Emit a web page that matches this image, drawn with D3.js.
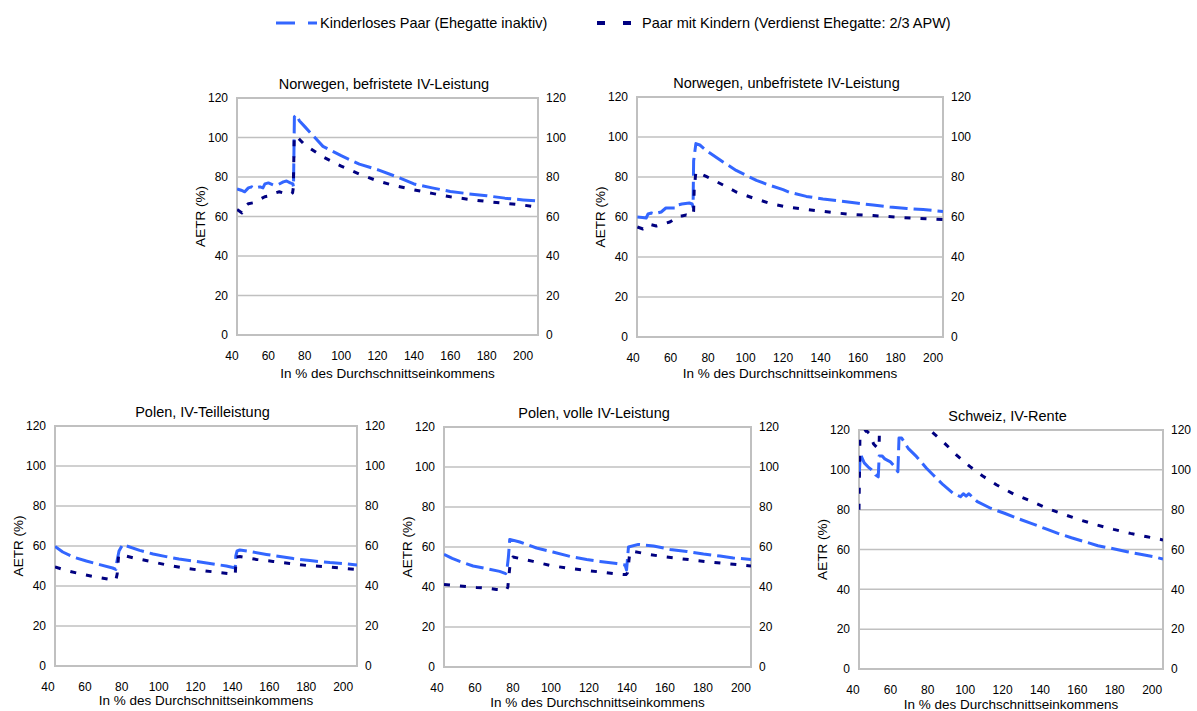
<!DOCTYPE html>
<html><head><meta charset="utf-8">
<script src="https://cdn.jsdelivr.net/npm/d3@7"></script>
<style>body{margin:0;background:#fff;font-family:"Liberation Sans",Arial,sans-serif;}</style>
</head><body>
<svg id="c" width="1197" height="711"></svg>
<script>
// ---------- data ----------
const seriesNames = ["Kinderloses Paar (Ehegatte inaktiv)", "Paar mit Kindern (Verdienst Ehegatte: 2/3 APW)"];
const panelTitles = ["Norwegen, befristete IV-Leistung","Norwegen, unbefristete IV-Leistung","Polen, IV-Teilleistung","Polen, volle IV-Leistung","Schweiz, IV-Rente"];
const xTicks = [40,60,80,100,120,140,160,180,200];
const yTicks = [0,20,40,60,80,100,120];
const xTitle = "In % des Durchschnittseinkommens";
const yTitle = "AETR (%)";

const norBefChildless = [[42.8,74],[45,73.3],[47,72.5],[49,74.5],[50.8,75],[52,74.3],[55.4,75],[57,74.5],[58.1,76.5],[60,77],[62.7,76],[65,76],[68.2,77.5],[70,78],[72,77],[73.5,76.5],[73.8,75],[74.3,110.5],[75.5,111.5],[77,108.5],[80,105.5],[85,100.5],[90,95.5],[100,90.8],[110,86.5],[120,83.7],[130,80.3],[140,76.5],[150,74.5],[160,72.7],[170,71.5],[180,70.5],[190,69.3],[200,68.4],[208.2,67.8]];
const norBefKids = [[42.8,63.5],[45.5,61.8],[47,65],[49,66.5],[52,67],[55,68.5],[58,70],[61,70.5],[64,72],[66,72.5],[68,72],[72,71],[73.3,72],[73.7,74.5],[74.2,100.5],[75,101],[80,96.3],[90,90.2],[100,85.5],[110,81.5],[120,78],[130,75.5],[140,73.5],[150,71.7],[160,70],[170,68.7],[180,67.6],[190,66.7],[200,65.8],[208.2,64.7]];

const norUnbChildless = [[42.3,60],[45,59.8],[47,59.5],[48,61.5],[49.8,62],[51.6,61.5],[53,62],[55,62.5],[57.5,64.5],[60,64.5],[63,64.5],[63.8,66],[66,66.5],[70,67],[71.5,66.5],[72,65],[72.3,88],[73.5,96.7],[75.6,96],[79,93.3],[88,87.5],[95,83.3],[100.4,80.8],[105.8,78.3],[113,75.8],[120,73.7],[123.6,72.3],[132.4,70.3],[141.3,69],[150,68],[159,67],[168,66],[177,65],[186,64.3],[194.7,63.7],[205.3,62.8]];
const norUnbKids = [[42.3,55],[45.3,54],[47,55.5],[48.9,56.3],[52.4,55.5],[56,56.5],[59.6,57.5],[62.2,59],[63.5,60.3],[66,60.5],[68.4,61],[70.5,60.5],[72,61],[72.3,63],[72.6,74],[73.5,82.5],[75,82],[79,80.3],[88,76],[95,72.5],[104,69.5],[113,66.8],[122,65],[130.7,64],[139.6,63],[148.4,62],[157,61.3],[168,60.7],[175,60.3],[184,59.7],[193,59.3],[205.3,58.7]];

const polTeilChildless = [[43.8,59.8],[48,57],[53.6,54.5],[60.8,52.5],[68,50.7],[75,49],[76.8,48.3],[77.3,52],[78.5,57.5],[80.5,60.7],[89.7,57.8],[97,56],[104,54.7],[111,53.5],[118.7,52.5],[126,51.5],[136.7,50],[141.5,49],[141.8,55],[142.5,57.5],[144,58],[149.4,57.3],[158.4,55.8],[165.7,54.7],[173,53.7],[182,52.7],[192.8,51.7],[200,51.2],[207.5,50.5]];
const polTeilKids = [[43.8,49.5],[50,47.7],[57,46.2],[64.4,44.8],[73.5,43.3],[76.8,43],[77.5,46],[78.3,55.5],[80,55.5],[88,53.7],[97,52],[106,50.2],[115,48.8],[124,47.7],[133,46.7],[140,46],[141.5,45.7],[142,54.5],[144,54.7],[153,53.3],[162,52.3],[171,51.3],[180,50.3],[189,49.7],[198,49],[207.5,48.3]];

const polVollChildless = [[43.7,56.3],[48,54.3],[52,52.8],[59,50.5],[66,49.2],[73,47.8],[76.2,46.7],[77,50],[77.6,55],[78.3,63.8],[83.6,62.5],[92.4,59.5],[101,57.5],[110,55.3],[118.8,53.8],[125.8,52.8],[134.6,51.7],[139,51],[139.8,48.5],[140.8,60],[146,61.3],[154,60.5],[162.7,58.8],[171.5,57.8],[180.3,56.5],[189,55.5],[196,54.5],[205.3,53.8]];
const polVollKids = [[43.7,41.3],[52,40.5],[60.7,39.8],[66,39.5],[71.3,38.8],[76.6,38.5],[77.3,40],[77.8,45],[78.5,51.5],[80,55],[90.6,52.8],[99.4,50.8],[108,49.5],[117,48.5],[125.8,47.5],[134.6,46.5],[139.5,46.2],[140.2,47],[140.7,50],[141.5,57.5],[143.4,57.8],[150.4,56.5],[159,55.2],[168,54.2],[176.8,53.2],[185.6,52.3],[194.4,51.5],[205.3,50.5]];

const schChildless = [[43.3,97],[43.9,108],[46,103.5],[48,101.5],[50,100],[52,97.5],[53.5,96.5],[54,107],[55.5,107],[57,105.5],[60,104],[62,102],[64,99],[64.6,116],[66,116],[69.5,110.8],[74,106.6],[79.3,100.8],[82.9,97.4],[88.3,92.4],[93.6,88.2],[97.5,86.5],[99,88],[100.5,86.8],[102,88],[106.5,84],[113.6,80.7],[121,78.2],[128,75.6],[135.3,73.1],[142.5,70.6],[149.6,68.1],[156.8,65.9],[164,63.9],[171,61.9],[178,60.6],[186.6,58.9],[193.7,57.6],[200.8,56.4],[205.8,55.2]];
const schKids = [[43.2,80],[43.7,117],[45,118.5],[47,119.8],[49,118],[51,113],[53.6,110.5],[54,114],[54.3,126],[60,124],[64,121.5],[64.6,138],[70,133],[75,127],[81,120],[88.3,114],[95.4,107.4],[102.6,101.6],[109.8,96.6],[116.9,92.4],[125.8,87.9],[134.8,84.4],[143.7,80.7],[152.6,77.7],[161.6,74.8],[170.5,72.3],[179.4,70.1],[188.4,68.1],[197.3,66.4],[205.8,64.8]];

// ---------- layout ----------
const colors = ["#3366FF", "#000080"];
const dashes = ["18,6", "6,10"];
const panels = [
  {title:panelTitles[0], left:237, right:538, top:98, bottom:335, xd:[42.75,208.2], s:[norBefChildless,norBefKids], xtY:43},
  {title:panelTitles[1], left:637, right:943, top:97, bottom:337, xd:[42.1,205.3], s:[norUnbChildless,norUnbKids], xtY:41},
  {title:panelTitles[2], left:55, right:357, top:426, bottom:666, xd:[43.8,207.5], s:[polTeilChildless,polTeilKids], xtY:39},
  {title:panelTitles[3], left:444, right:751, top:427, bottom:667, xd:[43.7,205.3], s:[polVollChildless,polVollKids], xtY:39.5},
  {title:panelTitles[4], left:859, right:1163, top:430, bottom:669, xd:[43.2,205.8], s:[schChildless,schKids], xtY:39.5}
];

const svg = d3.select("#c");
const font = '"Liberation Sans", Arial, sans-serif';

panels.forEach((p,i)=>{
  const w = p.right-p.left, h = p.bottom-p.top;
  const x = d3.scaleLinear().domain(p.xd).range([0,w]);
  const y = d3.scaleLinear().domain([0,120]).range([h,0]);
  const g = svg.append("g").attr("transform",`translate(${p.left},${p.top})`);
  g.selectAll("line.grid").data(yTicks.filter(t=>t>0 && t<120)).enter().append("line")
    .attr("x1",0).attr("x2",w).attr("y1",d=>y(d)).attr("y2",d=>y(d))
    .attr("stroke","#c0c0c0").attr("stroke-width",1.5);
  g.append("rect").attr("x",0).attr("y",0).attr("width",w).attr("height",h)
    .attr("fill","none").attr("stroke","#c0c0c0").attr("stroke-width",2);
  g.selectAll("text.yl").data(yTicks).enter().append("text")
    .attr("x",-9).attr("y",d=>y(d)).attr("dy","0.36em").attr("text-anchor","end")
    .attr("font-family",font).attr("font-size",12).attr("fill","#000").text(d=>d);
  g.selectAll("text.yr").data(yTicks).enter().append("text")
    .attr("x",w+8).attr("y",d=>y(d)).attr("dy","0.36em").attr("text-anchor","start")
    .attr("font-family",font).attr("font-size",12).attr("fill","#000").text(d=>d);
  g.selectAll("text.xl").data(xTicks).enter().append("text")
    .attr("x",d=>x(d)).attr("y",h+24.5).attr("text-anchor","middle")
    .attr("font-family",font).attr("font-size",12).attr("fill","#000").text(d=>d);
  g.append("text").attr("x",w/2-3.5).attr("y",-9.5).attr("text-anchor","middle")
    .attr("font-family",font).attr("font-size",14.5).attr("fill","#000").text(p.title);
  g.append("text").attr("x",w/2).attr("y",h+p.xtY).attr("text-anchor","middle")
    .attr("font-family",font).attr("font-size",13.5).attr("fill","#000").text(xTitle);
  g.append("text").attr("transform",`translate(-37,${h/2}) rotate(-90)`).attr("dy","0.35em")
    .attr("text-anchor","middle").attr("font-family",font).attr("font-size",13.5).attr("fill","#000").text(yTitle);
  svg.append("clipPath").attr("id","clip"+i).append("rect").attr("x",0).attr("y",0).attr("width",w).attr("height",h);
  const line = d3.line().x(d=>x(d[0])).y(d=>y(d[1]));
  p.s.forEach((s,k)=>{
    g.append("path").attr("d",line(s)).attr("clip-path",`url(#clip${i})`)
      .attr("fill","none").attr("stroke",colors[k]).attr("stroke-width",3)
      .attr("stroke-dasharray",dashes[k]).attr("stroke-linejoin","round");
  });
});

// legend
const leg = [{x1:276,x2:317,tx:320,da:"19,13",sw:3},{x1:597,x2:632,tx:642,da:"8,18",sw:4}];
leg.forEach((l,k)=>{
  svg.append("line").attr("x1",l.x1).attr("x2",l.x2).attr("y1",23).attr("y2",23)
    .attr("stroke",colors[k]).attr("stroke-width",l.sw).attr("stroke-dasharray",l.da);
  svg.append("text").attr("x",l.tx).attr("y",23).attr("dy","0.36em")
    .attr("font-family",font).attr("font-size",14.5).attr("fill","#000").text(seriesNames[k]);
});
</script>
</body></html>
